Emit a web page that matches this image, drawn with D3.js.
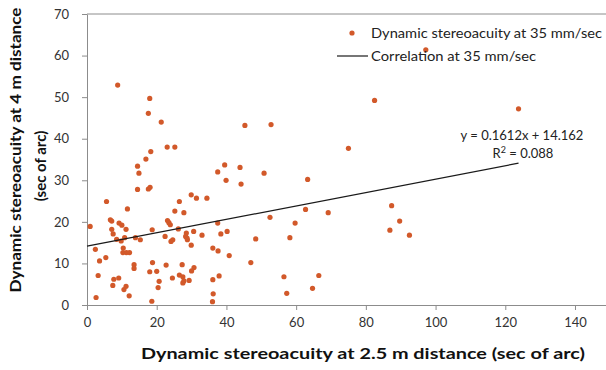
<!DOCTYPE html>
<html lang="en">
<head>
<meta charset="utf-8">
<title>Dynamic stereoacuity</title>
<style>
  body { margin: 0; background: #fff; }
  svg { display: block; font-family: Lato, "Open Sans", sans-serif; }
  .axis path, .axis line { stroke: #8c8c8c; }
  .axis text { fill: #333; font-size: 13px; font-family: Lato, sans-serif; }
  .title { font-weight: bold; font-size: 15px; fill: #111; }
  .note { font-size: 13px; fill: #222; }
</style>
</head>
<body>
<svg width="606" height="370"></svg>
<script src="https://cdn.jsdelivr.net/npm/d3@7"></script>
<script>

// stereoacuity at 2.5 m (x) and at 4 m (y), sec of arc
var xVals = [0.9, 2.4, 2.6, 3.2, 3.6, 5.4, 5.6, 6.7, 7.1, 7.1, 7.5, 7.4, 7.7, 8.5, 8.8, 9.1,
  9.2, 9.8, 10.0, 10.4, 10.3, 10.6, 10.8, 11.2, 11.2, 11.3, 11.6, 12.1, 12.2, 13.5, 13.5, 13.9,
  14.5, 14.9, 14.5, 15.3, 16.9, 17.6, 17.6, 18.0, 18.0, 18.1, 18.3, 18.6, 18.7, 18.8, 20.0, 20.4,
  20.7, 21.3, 22.4, 22.7, 23.0, 23.1, 23.5, 23.9, 24.1, 24.5, 24.6, 25.2, 25.2, 26.2, 26.5, 26.5,
  27.3, 27.5, 27.5, 27.8, 27.8, 28.3, 28.5, 28.7, 28.8, 29.3, 29.9, 29.9, 30.0, 30.6, 30.7, 31.4,
  33.0, 34.4, 36.1, 36.1, 36.2, 36.0, 37.5, 37.5, 37.6, 37.9, 38.4, 39.5, 39.9, 40.2, 40.8, 43.9,
  44.2, 45.3, 47.0, 48.4, 50.8, 52.5, 52.8, 56.5, 57.3, 58.2, 59.7, 62.7, 63.3, 64.7, 66.5, 69.2,
  75.0, 82.5, 86.9, 87.4, 89.7, 92.5, 97.2, 123.8];
var yVals = [18.9, 13.4, 1.8, 7.1, 10.6, 11.4, 24.9, 20.5, 20.2, 18.2, 17.1, 4.7, 6.2, 15.8, 52.9, 6.5,
  19.7, 15.4, 19.2, 13.7, 12.6, 3.7, 16.2, 18.2, 4.5, 12.6, 23.1, 2.2, 12.6, 9.7, 8.8, 16.2,
  33.4, 31.7, 27.8, 15.7, 35.1, 46.1, 27.9, 49.7, 8.0, 28.3, 36.9, 0.9, 18.1, 10.2, 8.1, 4.2,
  5.7, 44.0, 16.5, 9.6, 38.0, 20.3, 19.8, 19.3, 15.3, 6.5, 15.7, 38.0, 22.6, 18.3, 24.9, 7.2,
  9.7, 6.8, 5.3, 22.2, 5.8, 16.5, 17.3, 16.1, 15.7, 5.9, 26.5, 14.4, 8.2, 17.7, 9.0, 25.7,
  16.8, 25.7, 13.7, 6.1, 2.7, 0.8, 32.0, 19.7, 13.0, 7.0, 17.1, 33.7, 30.0, 17.7, 11.9, 33.1,
  29.1, 43.2, 10.2, 15.9, 31.7, 21.1, 43.4, 6.8, 2.8, 16.2, 19.7, 23.0, 30.2, 4.0, 7.1, 22.2,
  37.7, 49.2, 18.0, 23.9, 20.2, 16.8, 61.4, 47.2];

var xTicks = [0, 20, 40, 60, 80, 100, 120, 140];
var yTicks = [0, 10, 20, 30, 40, 50, 60, 70];

// linear trend shown in the chart
var slope = 0.1612, intercept = 14.162, rSquared = "0.088";
var trendX = [0, 123.8];

var points = xVals.map(function(x, i) { return {x: x, y: yVals[i]}; });

var svg = d3.select("svg");

var xScale = d3.scaleLinear().domain([0, 160]).range([87, 87 + 160 * 3.4857]);
var yScale = d3.scaleLinear().domain([0, 70]).range([305, 14]);

svg.append("g")
    .attr("class", "axis")
    .attr("transform", "translate(0," + yScale(0) + ")")
    .call(d3.axisBottom(xScale).tickValues(xTicks).tickSize(5).tickSizeOuter(0).tickPadding(8));

svg.append("g")
    .attr("class", "axis")
    .attr("transform", "translate(" + xScale(0) + ",0)")
    .call(d3.axisLeft(yScale).tickValues(yTicks).tickSize(5).tickSizeOuter(0).tickPadding(13));

// top border
svg.append("line")
    .attr("x1", xScale(0)).attr("x2", 606)
    .attr("y1", yScale(70)).attr("y2", yScale(70))
    .attr("stroke", "#8c8c8c");

svg.selectAll(".dot")
    .data(points)
  .enter().append("circle")
    .attr("class", "dot")
    .attr("cx", function(d) { return xScale(d.x); })
    .attr("cy", function(d) { return yScale(d.y); })
    .attr("r", 2.6)
    .attr("fill", "#d2592a");

var trend = d3.line()
    .x(function(d) { return xScale(d); })
    .y(function(d) { return yScale(slope * d + intercept); });

svg.append("path")
    .datum(trendX)
    .attr("d", trend)
    .attr("fill", "none")
    .attr("stroke", "#1a1a1a")
    .attr("stroke-width", 1.2);

// legend
svg.append("circle").attr("cx", 352).attr("cy", 33).attr("r", 2.6).attr("fill", "#d2592a");
svg.append("text").attr("class", "note").attr("x", 371).attr("y", 38)
    .attr("textLength", 231).attr("lengthAdjust", "spacingAndGlyphs")
    .text("Dynamic stereoacuity at 35 mm/sec");
svg.append("line").attr("x1", 337).attr("x2", 368).attr("y1", 56).attr("y2", 56)
    .attr("stroke", "#1a1a1a").attr("stroke-width", 1.2);
svg.append("text").attr("class", "note").attr("x", 371).attr("y", 61)
    .attr("textLength", 165).attr("lengthAdjust", "spacingAndGlyphs")
    .text("Correlation at 35 mm/sec");

// equation
svg.append("text").attr("class", "note").attr("x", 522).attr("y", 140)
    .attr("text-anchor", "middle")
    .text("y = " + slope + "x + " + intercept);
var r2 = svg.append("text").attr("class", "note").attr("x", 523).attr("y", 158)
    .attr("text-anchor", "middle");
r2.append("tspan").text("R");
r2.append("tspan").attr("dy", -5).attr("font-size", 9).text("2");
r2.append("tspan").attr("dy", 5).text(" = " + rSquared);

// axis titles
svg.append("text").attr("class", "title")
    .attr("x", 363).attr("y", 359)
    .attr("text-anchor", "middle")
    .attr("textLength", 444).attr("lengthAdjust", "spacingAndGlyphs")
    .text("Dynamic  stereoacuity at  2.5 m distance (sec of  arc)");

svg.append("text").attr("class", "title")
    .attr("transform", "translate(21,150) rotate(-90)")
    .attr("text-anchor", "middle")
    .attr("textLength", 285).attr("lengthAdjust", "spacingAndGlyphs")
    .text("Dynamic  stereoacuity at  4 m distance");
svg.append("text").attr("class", "title")
    .attr("transform", "translate(46,166) rotate(-90)")
    .attr("text-anchor", "middle")
    .text("(sec of arc)");

</script>
</body>
</html>
